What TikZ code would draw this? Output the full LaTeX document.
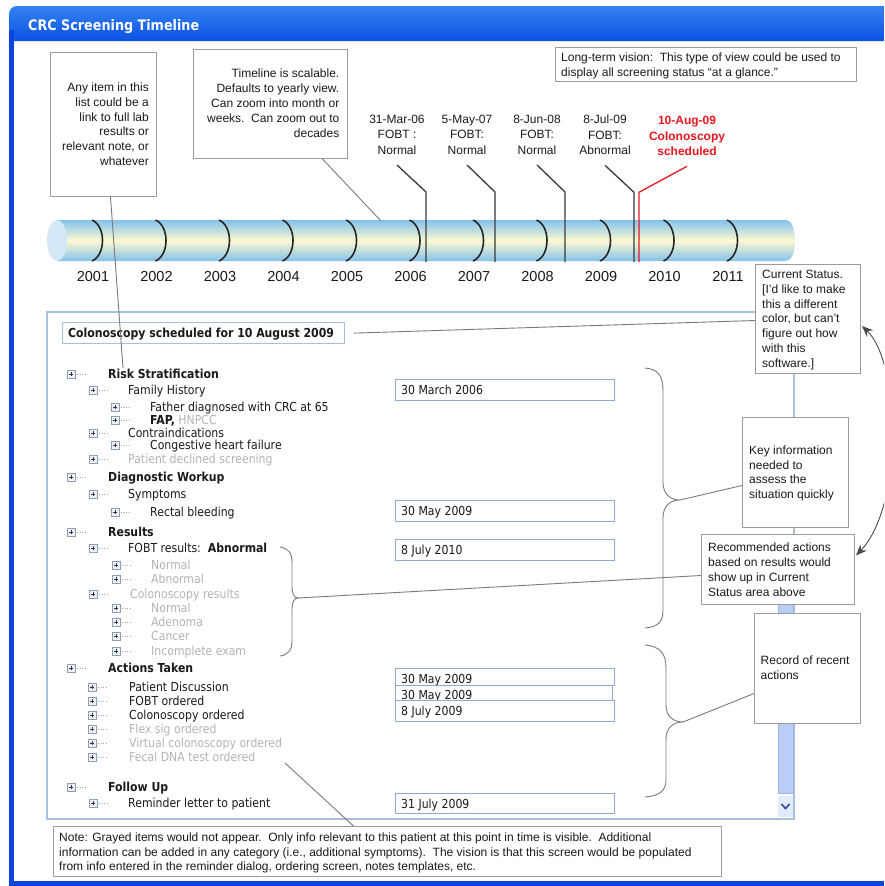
\documentclass[tikz,border=0pt]{standalone}
\usepackage{fontspec}
\setmainfont{Liberation Sans}
\newfontfamily\tah[FakeStretch=0.88]{DejaVu Sans}
\usetikzlibrary{arrows.meta}
\definecolor{winblue}{HTML}{0C44DC}
\definecolor{titletop}{HTML}{3582F2}
\definecolor{titlebot}{HTML}{0A52E2}
\definecolor{boxgray}{HTML}{9C9C9C}
\definecolor{panelblue}{HTML}{A9BFDC}
\definecolor{datablue}{HTML}{8FAAD0}
\definecolor{graytxt}{HTML}{B4B4B4}
\definecolor{darktxt}{HTML}{1A1A1A}
\definecolor{tlblue}{HTML}{84C2EB}
\definecolor{tlyellow}{HTML}{FCF9D2}
\definecolor{tlend}{HTML}{D4E7F6}
\definecolor{redtxt}{HTML}{E8161E}
\definecolor{thumbblue}{HTML}{BACDF6}
\definecolor{thumbedge}{HTML}{9DB3E6}
\definecolor{linegray}{HTML}{7A7A7A}
\definecolor{evgray}{HTML}{3A3A3A}
\definecolor{iconedge}{HTML}{8E9FB5}
\definecolor{iconfill}{HTML}{EEF2F8}
\definecolor{chevblue}{HTML}{2E4E9E}
\definecolor{btnfill}{HTML}{E2EAFB}

\newcommand\trow[5]{% name, icon x, text x, y, text
  \draw[iconbox] (#2-4,#4-4) rectangle (#2+4,#4+4);
  \draw[iconplus] (#2-2.2,#4) -- (#2+2.2,#4) (#2,#4-2.2) -- (#2,#4+2.2);
  \draw[icondots] (#2+6,#4) -- (#2+14,#4);
  \node[treetxt] (#1) at (#3,#4+4.2) {#5};
}

\begin{document}
\begin{tikzpicture}[x=1pt,y=-1pt,
  callout/.style={draw=boxgray, line width=1pt, fill=white, inner sep=0pt, anchor=north west},
  ctext/.style={inner sep=0pt, text=darktxt, font=\fontsize{12}{15}\selectfont},
  conn/.style={draw=linegray, line width=0.9pt},
  evline/.style={draw=evgray, line width=1.3pt},
  evtxt/.style={inner sep=0pt, anchor=north, align=center, text=darktxt, font=\fontsize{12}{15.7}\selectfont},
  yeartxt/.style={inner sep=0pt, text=darktxt, font=\fontsize{14.5}{16}\selectfont},
  yeararc/.style={draw=black!85, line width=1.6pt},
  datebox/.style={draw=datablue, line width=1.2pt, fill=white, inner sep=0pt, minimum width=219pt, minimum height=21pt, anchor=north west},
  datetxt/.style={inner sep=0pt, anchor=base west, text=darktxt, font=\tah\fontsize{12.4}{14}\selectfont},
  treetxt/.style={inner sep=0pt, anchor=base west, text=darktxt, font=\tah\fontsize{12.4}{14}\selectfont},
  iconbox/.style={draw=iconedge, fill=iconfill, line width=0.7pt},
  iconplus/.style={draw=black!80, line width=0.9pt},
  icondots/.style={draw=black!35, line width=0.7pt, dash pattern=on 1pt off 1.5pt},
  bracestyle/.style={draw=linegray, line width=0.9pt}
]
\clip (0,0) rectangle (884,886);
\fill[white] (0,0) rectangle (884,886);

% ---------- window frame ----------
\shade[top color=titletop, bottom color=titlebot] (9,41) [rounded corners=8pt] -- (9,6) [sharp corners] -- (884,6) -- (884,41) -- cycle;
\fill[winblue] (9,30) rectangle (14,886);
\fill[winblue] (9,881) rectangle (884,886);
\node[inner sep=0pt, anchor=base west, text=white, font=\tah\bfseries\fontsize{14.5}{16}\selectfont] (title) at (28,30) {CRC Screening Timeline};

% ---------- timeline bar ----------
\shade[top color=tlblue, bottom color=tlblue, middle color=tlyellow] (57,220) -- (786,220) .. controls (798,220) and (798,261) .. (786,261) -- (57,261) -- cycle;
\fill[tlend] (57,240.5) ellipse [x radius=10, y radius=20.5];
\foreach \i in {0,...,10} {
  \pgfmathsetmacro\xx{103+63.5*\i}
  \pgfmathtruncatemacro\yr{2001+\i}
  \draw[yeararc] (\xx-11,220) .. controls (\xx+3,226) and (\xx+3,255) .. (\xx-11,261);
  \node[yeartxt] (yr\i) at (\xx-10,277) {\yr};
}

% ---------- events ----------
\node[evtxt] (ev1) at (397,114.7) {31-Mar-06\\FOBT :\\Normal};
\node[evtxt] (ev2) at (467,114.7) {5-May-07\\FOBT:\\Normal};
\node[evtxt] (ev3) at (537,114.7) {8-Jun-08\\FOBT:\\Normal};
\node[evtxt] (ev4) at (605,114.7) {8-Jul-09\\FOBT:\\Abnormal};
\node[evtxt, text=redtxt, font=\bfseries\fontsize{12}{15.7}\selectfont] (ev5) at (687,116) {10-Aug-09\\Colonoscopy\\scheduled};
\coordinate (t1) at (426,262);
\coordinate (t2) at (495,262);
\coordinate (t3) at (565,262);
\coordinate (t4) at (634,262);
\coordinate (t5) at (639,262);
\draw[evline] ([yshift=-10pt]ev1.south) -- ++(29,27) -- (t1);
\draw[evline] ([yshift=-10pt]ev2.south) -- ++(28,27) -- (t2);
\draw[evline] ([yshift=-10pt]ev3.south) -- ++(28,27) -- (t3);
\draw[evline] ([yshift=-10pt]ev4.south) -- ++(29,27) -- (t4);
\draw[evline, draw=redtxt] ([yshift=-10pt]ev5.south) -- ++(-48,26) -- (t5);

% ---------- panel ----------
\draw[draw=panelblue, line width=1.3pt] (47,312) rectangle (794,819);
\fill[thumbblue, draw=thumbedge, line width=0.6pt] (778,590) rectangle (793,793);
\fill[btnfill] (778,796) rectangle (793,817);
\draw[draw=chevblue, line width=1.6pt] (781.5,804) -- (785.5,808.5) -- (789.5,804);

\node[draw=panelblue, line width=1.2pt, inner sep=0pt, minimum width=282pt, minimum height=21pt, anchor=north west] (hdr) at (62,322) {};
\node[inner sep=0pt, anchor=base west, text=darktxt, font=\tah\bfseries\fontsize{12.4}{14}\selectfont] (hdrt) at (68,337) {Colonoscopy scheduled for 10 August 2009};

% ---------- tree ----------
\trow{r1}{71}{108}{374}{\textbf{Risk Stratification}}
\trow{r2}{93}{128}{390}{Family History}
\trow{r3}{115}{150}{407}{Father diagnosed with CRC at 65}
\trow{r4}{115}{150}{420}{\textbf{FAP,} \textcolor{graytxt}{HNPCC}}
\trow{r5}{93}{128}{433}{Contraindications}
\trow{r6}{115}{150}{445}{Congestive heart failure}
\trow{r7}{93}{128}{459}{\textcolor{graytxt}{Patient declined screening}}
\trow{r8}{71}{108}{477}{\textbf{Diagnostic Workup}}
\trow{r9}{93}{128}{494}{Symptoms}
\trow{r10}{115}{150}{512}{Rectal bleeding}
\trow{r11}{71}{108}{532}{\textbf{Results}}
\trow{r12}{93}{128}{548}{FOBT results:\ \ \textbf{Abnormal}}
\trow{r13}{116}{151}{565}{\textcolor{graytxt}{Normal}}
\trow{r14}{116}{151}{579}{\textcolor{graytxt}{Abnormal}}
\trow{r15}{93}{130}{594}{\textcolor{graytxt}{Colonoscopy results}}
\trow{r16}{116}{151}{608}{\textcolor{graytxt}{Normal}}
\trow{r17}{116}{151}{622}{\textcolor{graytxt}{Adenoma}}
\trow{r18}{116}{151}{636}{\textcolor{graytxt}{Cancer}}
\trow{r19}{116}{151}{651}{\textcolor{graytxt}{Incomplete exam}}
\trow{r20}{71}{108}{668}{\textbf{Actions Taken}}
\trow{r21}{92}{129}{687}{Patient Discussion}
\trow{r22}{92}{129}{701}{FOBT ordered}
\trow{r23}{92}{129}{715}{Colonoscopy ordered}
\trow{r24}{92}{129}{729}{\textcolor{graytxt}{Flex sig ordered}}
\trow{r25}{92}{129}{743}{\textcolor{graytxt}{Virtual colonoscopy ordered}}
\trow{r26}{92}{129}{757}{\textcolor{graytxt}{Fecal DNA test ordered}}
\trow{r27}{71}{108}{787}{\textbf{Follow Up}}
\trow{r28}{93}{128}{803}{Reminder letter to patient}

% ---------- date boxes ----------
\node[datebox] (d1) at (395,379) {};
\node[datetxt] (d1t) at (401,394) {30 March 2006};
\node[datebox] (d2) at (395,500) {};
\node[datetxt] (d2t) at (401,515) {30 May 2009};
\node[datebox] (d3) at (395,539) {};
\node[datetxt] (d3t) at (401,554) {8 July 2010};
\node[datebox, minimum height=17pt] (d4) at (395,668) {};
\node[datetxt] (d4t) at (401,683) {30 May 2009};
\node[datebox, minimum height=15pt, minimum width=217pt] (d5) at (395,685) {};
\node[datetxt] (d5t) at (401,699.5) {30 May 2009};
\node[datebox] (d6) at (395,700) {};
\node[datetxt] (d6t) at (401,715) {8 July 2009};
\node[datebox, minimum height=20pt] (d7) at (395,793) {};
\node[datetxt] (d7t) at (401,808) {31 July 2009};

% ---------- braces ----------
\coordinate (b1tip) at (680,500);
\coordinate (b2tip) at (683,722);
\coordinate (b3tip) at (298,598);
\draw[bracestyle] (645,368) .. controls (658,369) and (663,376) .. (663,390) -- (663,482) .. controls (663,494) and (670,500) .. (b1tip) .. controls (670,500) and (663,506) .. (663,518) -- (663,610) .. controls (663,622) and (658,627) .. (645,628);
\draw[bracestyle] (645,645) .. controls (659,646) and (666,653) .. (666,667) -- (666,705) .. controls (666,716) and (673,722) .. (b2tip) .. controls (673,722) and (666,728) .. (666,739) -- (666,780) .. controls (666,791) and (659,796) .. (645,797);
\draw[bracestyle] (280,547) .. controls (288,548) and (292,553) .. (292,562) -- (292,586) .. controls (292,594) and (294,598) .. (b3tip) .. controls (294,598) and (292,602) .. (292,610) -- (292,641) .. controls (292,650) and (288,655) .. (280,656);

% ---------- callout boxes ----------
\node[callout, minimum width=106pt, minimum height=144pt] (anybox) at (50,52) {};
\node[ctext, anchor=north east, align=right, font=\fontsize{12}{14.8}\selectfont] (anyt) at (149,82.7) {Any item in this\\list could be a\\link to full lab\\results or\\relevant note, or\\whatever};

\node[callout, minimum width=154pt, minimum height=109pt] (tlbox) at (193,49) {};
\node[ctext, anchor=north east, align=right] (tlt) at (339.5,69) {Timeline is scalable.\\Defaults to yearly view.\\Can zoom into month or\\weeks.\ \ Can zoom out to\\decades};

\node[callout, minimum width=301pt, minimum height=34pt] (ltbox) at (555,47) {};
\node[ctext, anchor=north west, align=left, font=\fontsize{12}{14.5}\selectfont] (ltt) at (561,53) {Long-term vision:\ \ This type of view could be used to\\display all screening status “at a glance.”};

\node[callout, minimum width=105pt, minimum height=109pt] (curbox) at (755,264) {};
\node[ctext, anchor=north west, align=left, font=\fontsize{12}{14.9}\selectfont] (curt) at (762,269.7) {Current Status.\\{[I'd like to make}\\this a different\\color, but can't\\figure out how\\with this\\software.]};

\node[callout, minimum width=106pt, minimum height=110pt] (keybox) at (742,417) {};
\node[ctext, anchor=north west, align=left, font=\fontsize{12}{14.5}\selectfont] (keyt) at (749,445.7) {Key information\\needed to\\assess the\\situation quickly};

\node[callout, minimum width=153pt, minimum height=70pt] (recbox) at (701,534) {};
\node[ctext, anchor=north west, align=left, font=\fontsize{12}{14.8}\selectfont] (rect) at (708,543) {Recommended actions\\based on results would\\show up in Current\\Status area above};

\node[callout, minimum width=106pt, minimum height=110pt] (rcdbox) at (754,613) {};
\node[ctext, anchor=north west, align=left] (rcdt) at (760.5,655.7) {Record of recent\\actions};

\node[callout, minimum width=668pt, minimum height=50pt] (notebox) at (53,826) {};
\node[ctext, anchor=north west, align=left, font=\fontsize{12}{14.5}\selectfont] (notet) at (59,832.7) {Note: Grayed items would not appear.\ \ Only info relevant to this patient at this point in time is visible.\ \ Additional\\information can be added in any category (i.e., additional symptoms).\ \ The vision is that this screen would be populated\\from info entered in the reminder dialog, ordering screen, notes templates, etc.};

% ---------- connectors ----------
\coordinate (riskptr) at (123,368);
\coordinate (tlptr) at (381,221);
\coordinate (fecalptr) at (285,763);
\draw[conn] ([xshift=7pt]anybox.south) -- (riskptr);
\draw[conn] ([xshift=52pt]tlbox.south) -- (tlptr);
\draw[conn] ([xshift=9pt]hdr.east) -- ([yshift=-1.5pt]curbox.west);
\draw[conn] (b1tip) -- ([yshift=-13pt]keybox.west);
\draw[conn] (b2tip) -- ([yshift=-25pt]rcdbox.west);
\draw[conn] (b3tip) -- ([yshift=-6pt]recbox.west);
\draw[conn] (fecalptr) -- ([xshift=-34pt]notebox.north);
\draw[line width=0.9pt, draw=black!70, {Stealth[length=11pt,width=9pt]}-{Stealth[length=11pt,width=9pt]}] ([shift={(1pt,-7pt)}]curbox.east) .. controls (900,362) and (904,505) .. ([shift={(1pt,14pt)}]recbox.east);
\end{tikzpicture}
\end{document}
